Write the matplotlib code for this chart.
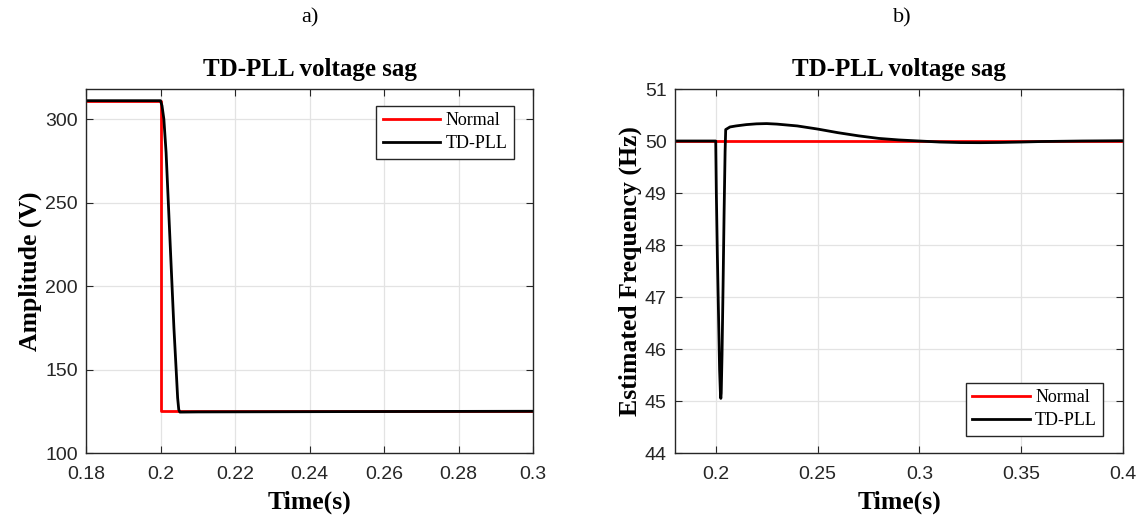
import numpy as np
import matplotlib
matplotlib.use('Agg')
import matplotlib.pyplot as plt

plt.rcParams['font.family'] = 'Liberation Serif'

# a) amplitude during the voltage sag
t_norm_amp = [0.18, 0.2, 0.2, 0.3]
amp_norm = [311, 311, 125, 125]
t_td_amp = [0.18, 0.2, 0.2004, 0.2009, 0.2015, 0.2021, 0.2026, 0.2031, 0.2036,
            0.2042, 0.2046, 0.2049, 0.2052, 0.21, 0.25, 0.3]
amp_td = [311, 311, 308, 300, 280, 250, 225, 200, 175,
          150, 133, 126, 124.5, 124.6, 124.8, 125]

# b) estimated frequency
t_norm_f = [0.18, 0.4]
f_norm = [50, 50]
t_td_f = [0.18, 0.2, 0.2003, 0.2008, 0.2014, 0.2019, 0.2023, 0.2025, 0.2027,
          0.2031, 0.2036, 0.2041, 0.2046, 0.2049, 0.207, 0.21, 0.215, 0.22,
          0.225, 0.23, 0.24, 0.25, 0.26, 0.27, 0.28, 0.29, 0.30, 0.31, 0.32,
          0.33, 0.34, 0.35, 0.36, 0.38, 0.4]
f_td = [50, 50, 49.0, 47.8, 46.6, 45.6, 45.15, 45.05, 45.15,
        45.9, 47.2, 48.6, 49.8, 50.22, 50.27, 50.29, 50.315, 50.33,
        50.335, 50.325, 50.29, 50.23, 50.16, 50.1, 50.05, 50.02, 50.0, 49.98, 49.97,
        49.968, 49.972, 49.98, 49.99, 50.0, 50.005]

fig = plt.figure(figsize=(11.43, 5.15), dpi=100)
ax1 = fig.add_axes([86/1143, 1 - 453/515, (533-86)/1143, (453-89)/515])
ax2 = fig.add_axes([675/1143, 1 - 453/515, (1123-675)/1143, (453-89)/515])

def style(ax):
    ax.grid(True, color='#e3e3e3', linewidth=0.9)
    ax.set_axisbelow(True)
    ax.tick_params(direction='in', top=True, right=True, length=5,
                   labelsize=14, color='#262626', labelcolor='#262626')
    ax.tick_params(axis='y', pad=6)
    ax.tick_params(axis='x', pad=9.5)
    for lbl in ax.get_xticklabels() + ax.get_yticklabels():
        lbl.set_fontfamily('Liberation Sans')
    for sp in ax.spines.values():
        sp.set_color('#262626')
        sp.set_linewidth(1.0)
    ax.set_title('TD-PLL voltage sag', fontsize=18, fontweight='bold', pad=9.5)
    ax.set_xlabel('Time(s)', fontsize=18.5, fontweight='bold', labelpad=5)

def legend(ax, **kw):
    leg = ax.legend(fontsize=13, handlelength=3.2, fancybox=False,
                    edgecolor='#262626', framealpha=1, borderpad=0.35,
                    labelspacing=0.35, handletextpad=0.3, borderaxespad=0,
                    **kw)
    leg.get_frame().set_linewidth(1.0)

ax1.plot(t_norm_amp, amp_norm, color='red', lw=2, label='Normal')
ax1.plot(t_td_amp, amp_td, color='black', lw=2, label='TD-PLL')
ax1.set_xlim(0.18, 0.3)
ax1.set_ylim(100, 318)
ax1.set_xticks([0.18, 0.2, 0.22, 0.24, 0.26, 0.28, 0.3])
ax1.set_xticklabels(['0.18', '0.2', '0.22', '0.24', '0.26', '0.28', '0.3'])
ax1.set_yticks([100, 150, 200, 250, 300])
ax1.set_ylabel('Amplitude (V)', fontsize=18.5, fontweight='bold', labelpad=2)
style(ax1)
legend(ax1, loc='upper right', bbox_to_anchor=(0.9575, 0.954))

ax2.plot(t_norm_f, f_norm, color='red', lw=2, label='Normal')
ax2.plot(t_td_f, f_td, color='black', lw=2, label='TD-PLL')
ax2.set_xlim(0.18, 0.4)
ax2.set_ylim(44, 51)
ax2.set_xticks([0.2, 0.25, 0.3, 0.35, 0.4])
ax2.set_xticklabels(['0.2', '0.25', '0.3', '0.35', '0.4'])
ax2.set_yticks(range(44, 52))
ax2.set_ylabel('Estimated Frequency (Hz)', fontsize=18.5, fontweight='bold', labelpad=2)
style(ax2)
legend(ax2, loc='lower right', bbox_to_anchor=(0.956, 0.0475))

fig.text(310/1143, 1 - 18/515, 'a)', fontsize=16, ha='center', va='center')
fig.text(902/1143, 1 - 18/515, 'b)', fontsize=16, ha='center', va='center')

fig.savefig('out.png', dpi=100)
